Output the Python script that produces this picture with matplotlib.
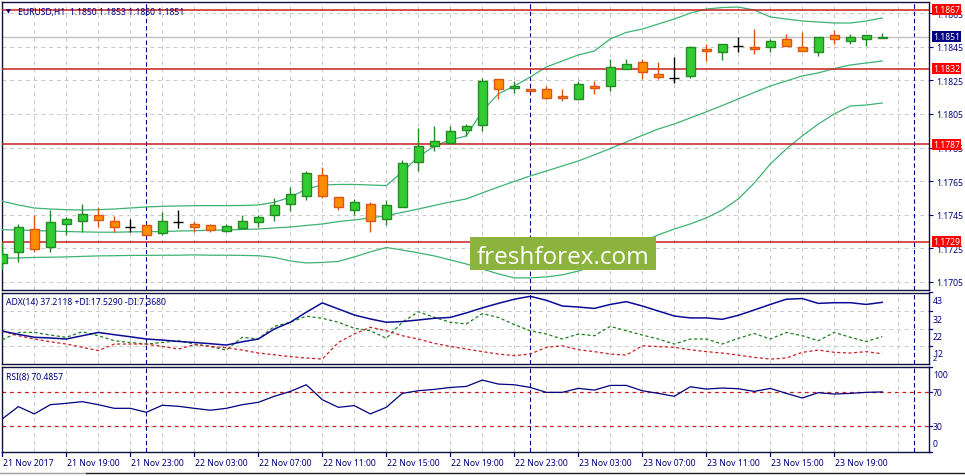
import matplotlib
matplotlib.use('Agg')
import matplotlib.pyplot as plt
import matplotlib.transforms as mtransforms
from matplotlib.patches import Rectangle
from matplotlib.lines import Line2D

plt.rcParams['font.family'] = ['Noto Sans', 'DejaVu Sans']

# EURUSD H1 candles, bar 0 = 21 Nov 15:00
opens = [1.17161, 1.17227, 1.17365, 1.17256, 1.17393, 1.17411, 1.17447, 1.17411, 1.17375, 1.17391,
         1.17344, 1.17409, 1.17393, 1.17391, 1.17352, 1.17373, 1.17405, 1.17447, 1.17512, 1.17564,
         1.17685, 1.17554, 1.17480, 1.17512, 1.17423, 1.17494, 1.17762, 1.17861, 1.17875, 1.17952,
         1.17982, 1.18256, 1.18202, 1.18197, 1.18197, 1.18155, 1.18137, 1.18214, 1.18214, 1.18316,
         1.18357, 1.18286, 1.18262, 1.18274, 1.18434, 1.18417, 1.18452, 1.18446, 1.18446, 1.18494,
         1.18446, 1.18417, 1.18518, 1.18482, 1.18494, 1.18500]
highs = [1.17285, 1.17395, 1.17449, 1.17478, 1.17435, 1.17514, 1.17494, 1.17445, 1.17425, 1.17395,
         1.17465, 1.17478, 1.17411, 1.17395, 1.17393, 1.17449, 1.17449, 1.17552, 1.17617, 1.17710,
         1.17732, 1.17554, 1.17544, 1.17524, 1.17536, 1.17776, 1.17964, 1.17976, 1.17976, 1.17988,
         1.18262, 1.18256, 1.18244, 1.18199, 1.18214, 1.18197, 1.18244, 1.18244, 1.18375, 1.18375,
         1.18375, 1.18357, 1.18387, 1.18452, 1.18464, 1.18464, 1.18506, 1.18553, 1.18494, 1.18524,
         1.18536, 1.18506, 1.18547, 1.18524, 1.18518, 1.18530]
lows = [1.17127, 1.17171, 1.17230, 1.17230, 1.17332, 1.17349, 1.17379, 1.17345, 1.17345, 1.17322,
        1.17330, 1.17371, 1.17345, 1.17350, 1.17345, 1.17373, 1.17379, 1.17411, 1.17474, 1.17540,
        1.17552, 1.17480, 1.17451, 1.17349, 1.17391, 1.17494, 1.17712, 1.17831, 1.17875, 1.17921,
        1.17947, 1.18137, 1.18173, 1.18185, 1.18137, 1.18125, 1.18137, 1.18167, 1.18185, 1.18316,
        1.18256, 1.18258, 1.18232, 1.18262, 1.18363, 1.18369, 1.18417, 1.18405, 1.18417, 1.18452,
        1.18423, 1.18393, 1.18464, 1.18464, 1.18452, 1.18500]
closes = [1.17217, 1.17375, 1.17246, 1.17405, 1.17425, 1.17455, 1.17421, 1.17379, 1.17375, 1.17331,
          1.17411, 1.17409, 1.17379, 1.17361, 1.17381, 1.17413, 1.17437, 1.17506, 1.17572, 1.17699,
          1.17564, 1.17494, 1.17524, 1.17411, 1.17506, 1.17756, 1.17857, 1.17887, 1.17947, 1.17976,
          1.18244, 1.18197, 1.18214, 1.18185, 1.18143, 1.18143, 1.18226, 1.18202, 1.18327, 1.18345,
          1.18298, 1.18272, 1.18262, 1.18446, 1.18423, 1.18464, 1.18452, 1.18434, 1.18482, 1.18452,
          1.18423, 1.18506, 1.18494, 1.18506, 1.18518, 1.18510]

bb_upper = [1.17530, 1.17508, 1.17490, 1.17484, 1.17480, 1.17478, 1.17480, 1.17484, 1.17490, 1.17496,
            1.17500, 1.17502, 1.17504, 1.17504, 1.17504, 1.17505, 1.17508, 1.17524, 1.17554, 1.17603,
            1.17627, 1.17630, 1.17630, 1.17627, 1.17623, 1.17705, 1.17794, 1.17859, 1.17895, 1.17919,
            1.18067, 1.18169, 1.18216, 1.18270, 1.18329, 1.18365, 1.18401, 1.18424, 1.18496, 1.18535,
            1.18555, 1.18585, 1.18615, 1.18650, 1.18674, 1.18683, 1.18686, 1.18668, 1.18627, 1.18615,
            1.18603, 1.18597, 1.18591, 1.18591, 1.18603, 1.18621]
bb_middle = [1.17361, 1.17359, 1.17356, 1.17353, 1.17350, 1.17348, 1.17346, 1.17346, 1.17348, 1.17349,
             1.17350, 1.17353, 1.17355, 1.17358, 1.17359, 1.17362, 1.17365, 1.17371, 1.17377, 1.17386,
             1.17395, 1.17409, 1.17419, 1.17431, 1.17444, 1.17464, 1.17484, 1.17505, 1.17526, 1.17544,
             1.17580, 1.17615, 1.17648, 1.17681, 1.17710, 1.17740, 1.17770, 1.17806, 1.17844, 1.17883,
             1.17922, 1.17960, 1.17990, 1.18026, 1.18062, 1.18100, 1.18139, 1.18178, 1.18216, 1.18246,
             1.18276, 1.18294, 1.18320, 1.18341, 1.18353, 1.18365]
bb_lower = [1.17191, 1.17193, 1.17196, 1.17197, 1.17199, 1.17202, 1.17205, 1.17206, 1.17208, 1.17208,
            1.17209, 1.17209, 1.17211, 1.17209, 1.17209, 1.17208, 1.17206, 1.17196, 1.17175, 1.17163,
            1.17166, 1.17172, 1.17199, 1.17229, 1.17255, 1.17240, 1.17223, 1.17205, 1.17181, 1.17157,
            1.17127, 1.17098, 1.17074, 1.17074, 1.17080, 1.17092, 1.17115, 1.17145, 1.17187, 1.17234,
            1.17288, 1.17330, 1.17365, 1.17395, 1.17431, 1.17478, 1.17544, 1.17639, 1.17752, 1.17841,
            1.17919, 1.17990, 1.18050, 1.18097, 1.18103, 1.18115]

adx = [20.6, 18.7, 17.0, 16.6, 16.0, 17.9, 19.8, 18.5, 17.3, 16.0,
       15.4, 14.6, 14.0, 13.3, 12.5, 14.4, 16.0, 21.8, 25.7, 31.5,
       36.9, 33.4, 29.9, 27.6, 25.7, 26.1, 27.0, 28.0, 28.5, 31.1,
       34.0, 36.6, 39.0, 40.7, 38.4, 35.1, 34.5, 33.7, 36.0, 37.6,
       35.1, 32.2, 29.3, 28.2, 28.2, 27.4, 29.7, 32.8, 36.0, 39.0,
       39.4, 36.6, 37.0, 37.0, 36.0, 37.2]
plus_di = [15.6, 19.8, 19.8, 18.3, 17.0, 20.2, 17.9, 15.0, 14.0, 13.1,
           14.0, 15.0, 13.1, 11.7, 9.6, 17.0, 16.0, 23.3, 25.7, 29.2,
           28.0, 25.7, 22.2, 20.8, 16.4, 25.7, 31.8, 28.5, 25.7, 24.7,
           30.7, 28.5, 24.3, 20.8, 18.9, 16.0, 18.9, 17.9, 23.3, 20.8,
           18.3, 16.0, 13.1, 16.0, 16.0, 13.1, 16.4, 19.2, 16.0, 19.8,
           17.9, 15.0, 19.8, 17.0, 14.5, 17.5]
minus_di = [20.6, 17.9, 16.0, 14.4, 13.1, 11.2, 9.3, 13.1, 13.1, 13.1,
            11.7, 10.2, 12.7, 11.7, 11.0, 9.6, 7.9, 6.9, 5.8, 5.0,
            4.4, 14.0, 18.9, 22.8, 20.8, 17.9, 16.0, 13.5, 11.7, 10.2,
            8.7, 7.3, 6.4, 7.3, 11.2, 12.1, 9.8, 8.7, 7.3, 6.7,
            12.1, 11.6, 11.2, 9.8, 8.7, 7.9, 6.7, 5.4, 4.4, 5.0,
            8.3, 9.6, 8.3, 7.9, 8.7, 7.4]
rsi = [38.6, 53.1, 44.5, 55.4, 57.0, 59.0, 55.4, 51.1, 51.1, 46.4,
       54.7, 53.5, 51.1, 48.8, 51.1, 55.4, 58.2, 65.3, 71.1, 79.0,
       61.3, 52.3, 54.3, 44.5, 52.3, 68.8, 71.9, 73.5, 75.8, 77.0,
       84.5, 79.8, 79.0, 75.8, 70.0, 70.0, 74.7, 72.7, 78.2, 78.2,
       71.9, 68.8, 65.3, 76.6, 73.9, 75.1, 74.3, 71.1, 74.7, 68.8,
       63.3, 69.6, 68.0, 68.8, 70.0, 70.5]

time_labels = ['21 Nov 2017', '21 Nov 19:00', '21 Nov 23:00', '22 Nov 03:00', '22 Nov 07:00',
               '22 Nov 11:00', '22 Nov 15:00', '22 Nov 19:00', '22 Nov 23:00', '23 Nov 03:00',
               '23 Nov 07:00', '23 Nov 11:00', '23 Nov 15:00', '23 Nov 19:00']
label_bars = list(range(0, 56, 4))
day_breaks = [9, 33, 57]
levels = [1.1867, 1.1832, 1.1787, 1.1729]
last_price = 1.1851
price_ticks = [1.1705 + 0.002 * i for i in range(9)]
adx_scale = [43, 32, 22, 12]
rsi_scale = [100, 70, 30, 0]

W, H = 965, 477
NAVY = '#000080'
GRID = '#c8c8c8'
FS = 6.2

fig = plt.figure(figsize=(W / 100, H / 100), dpi=100)
fig.patch.set_facecolor('white')


def px_axes(left, top, right, bottom):
    return fig.add_axes([left / W, 1 - bottom / H, (right - left) / W, (bottom - top) / H])


def style_panel(ax):
    ax.set_xlim(-0.02, 57.92)
    ax.set_facecolor('white')
    for s in ax.spines.values():
        s.set_color('#10103c')
        s.set_linewidth(1)
    ax.set_xticks(range(0, 58, 2))
    ax.tick_params(axis='x', length=0, labelbottom=False)
    ax.grid(True, color=GRID, lw=0.7, ls=(0, (4, 4)))
    ax.set_axisbelow(True)
    for d in day_breaks:
        ax.axvline(d, color=NAVY, lw=0.8, ls=(0, (4, 2.5)), zorder=2)


def right_tick(ax, y):
    ax.add_line(Line2D([1, 1 + 3 / 927], [y, y], transform=ax.get_yaxis_transform(),
                       color=NAVY, lw=0.9, clip_on=False))


ax = px_axes(2, 3, 929, 291)
adx_ax = px_axes(2, 293.5, 929, 365)
rsi_ax = px_axes(2, 368, 929, 452.5)

# ---- main price panel
style_panel(ax)
ax.set_ylim(1.17002, 1.18716)
ax.set_yticks(price_ticks)
ax.set_yticklabels([f'{p:.4f}' for p in price_ticks])
ax.yaxis.tick_right()
ax.tick_params(axis='y', length=3, color=NAVY, labelcolor=NAVY, labelsize=FS, pad=2)

bars = list(range(len(opens)))
ax.plot(bars, bb_upper, color='#3cb371', lw=0.9, zorder=3)
ax.plot(bars, bb_middle, color='#3cb371', lw=0.9, zorder=3)
ax.plot(bars, bb_lower, color='#3cb371', lw=0.9, zorder=3)

for i in bars:
    o, h, l, c = opens[i], highs[i], lows[i], closes[i]
    if c > o:
        face, edge = '#32cd32', '#1e8c1e'
    elif c < o:
        face, edge = '#ff8c00', '#e0560f'
    else:
        face, edge = None, 'black'
    ax.vlines(i, l, h, color=edge, lw=1, zorder=4)
    if face is None:
        ax.hlines(o, i - 0.32, i + 0.32, color='black', lw=1, zorder=5)
    else:
        ax.add_patch(Rectangle((i - 0.29, min(o, c)), 0.58, abs(c - o),
                               fc=face, ec=edge, lw=1, zorder=5))

ax.axhline(last_price, color='#c0c0c0', lw=1, zorder=2)
for lv in levels:
    ax.axhline(lv, color='#c81e1e', lw=1.1, zorder=3)

ytrans = mtransforms.blended_transform_factory(ax.transAxes, ax.transData)
for lv in levels:
    ax.text(1 + 4 / 927, lv, f'{lv:.4f}', transform=ytrans, ha='left', va='center',
            color='white', fontsize=FS, clip_on=False, zorder=8,
            bbox=dict(boxstyle='square,pad=0.12', fc='#ff0000', ec='none'))
ax.text(1 + 4 / 927, last_price, f'{last_price:.4f}', transform=ytrans, ha='left', va='center',
        color='white', fontsize=FS, clip_on=False, zorder=8,
        bbox=dict(boxstyle='square,pad=0.12', fc=NAVY, ec='none'))

# ---- ADX panel
style_panel(adx_ax)
adx_ax.set_ylim(1.55, 42.9)
adx_ax.set_yticks([32, 22, 12])
adx_ax.tick_params(axis='y', length=0, labelleft=False)
adx_ax.plot(bars, adx, color='#0a0a96', lw=1.1, zorder=4)
adx_ax.plot(bars, plus_di, color='#1e7d1e', lw=0.9, ls=(0, (2.5, 2)), zorder=3)
adx_ax.plot(bars, minus_di, color='#cc2222', lw=0.9, ls=(0, (2.5, 2)), zorder=3)
atrans = mtransforms.blended_transform_factory(adx_ax.transAxes, adx_ax.transData)
atrans = mtransforms.offset_copy(atrans, fig=fig, x=0, y=-8, units='dots')
for v in adx_scale:
    right_tick(adx_ax, v)
    adx_ax.text(1 + 4 / 927, v, str(v), transform=atrans, ha='left', va='center',
                color=NAVY, fontsize=FS, clip_on=False)
adx_ax.text(1 + 4 / 927, 0.08, '2', transform=adx_ax.transAxes, ha='left', va='center',
            color=NAVY, fontsize=FS - 1, clip_on=False)
adx_ax.text(0.004, 0.88, 'ADX(14) 37.2118 +DI:17.5290 -DI:7.3680', transform=adx_ax.transAxes,
            ha='left', va='center', color=NAVY, fontsize=FS)

# ---- RSI panel
style_panel(rsi_ax)
rsi_ax.set_ylim(0, 100)
rsi_ax.set_yticks([])
rsi_ax.axhline(70, color='#c81e1e', lw=0.9, ls=(0, (3, 3)), zorder=2)
rsi_ax.axhline(30, color='#c81e1e', lw=0.9, ls=(0, (3, 3)), zorder=2)
rsi_ax.plot(bars, rsi, color='#000080', lw=0.9, zorder=4)
rtrans = mtransforms.blended_transform_factory(rsi_ax.transAxes, rsi_ax.transData)
for v, dy in zip(rsi_scale, [-7, 0, 0, 7.5]):
    right_tick(rsi_ax, v)
    rsi_ax.text(1 + 4 / 927, v, str(v),
                transform=mtransforms.offset_copy(rtrans, fig=fig, x=0, y=dy, units='dots'),
                ha='left', va='center', color=NAVY, fontsize=FS, clip_on=False)
rsi_ax.text(0.004, 0.89, 'RSI(8) 70.4857', transform=rsi_ax.transAxes,
            ha='left', va='center', color=NAVY, fontsize=FS)

# time axis under the RSI panel
for b, lab in zip(label_bars, time_labels):
    rsi_ax.add_line(Line2D([b, b], [0, -0.055], transform=rsi_ax.get_xaxis_transform(),
                           color=NAVY, lw=0.9, clip_on=False))
    rsi_ax.text(b + 0.03, -0.125, lab, transform=rsi_ax.get_xaxis_transform(),
                ha='left', va='center', color=NAVY, fontsize=FS, clip_on=False)

# header of main window
fig.text(8 / W, 1 - 12 / H, '▼', fontsize=4.5, color=NAVY, ha='center', va='center',
         family='DejaVu Sans', zorder=12)
fig.text(18 / W, 1 - 12 / H, 'EURUSD,H1  1.1850 1.1853 1.1850 1.1851', fontsize=FS,
         color=NAVY, ha='left', va='center', zorder=12)

# watermark
fig.patches.append(Rectangle((470 / W, 1 - 271 / H), 186 / W, 33 / H, transform=fig.transFigure,
                             fc='#8db33f', ec='none', zorder=10))
fig.text(563 / W, 1 - 264 / H, 'freshforex.com', family='Open Sans', fontsize=17.5,
         color='white', ha='center', va='baseline', zorder=11)

# tab bar edge at the bottom
fig.add_artist(Line2D([0, 86 / W], [1 - 474 / H] * 2, transform=fig.transFigure, color='#a0a0a0', lw=1))
fig.add_artist(Line2D([86 / W, 1], [1 - 474 / H] * 2, transform=fig.transFigure, color='#202020', lw=1))

fig.savefig('out.png', dpi=100, facecolor='white')
